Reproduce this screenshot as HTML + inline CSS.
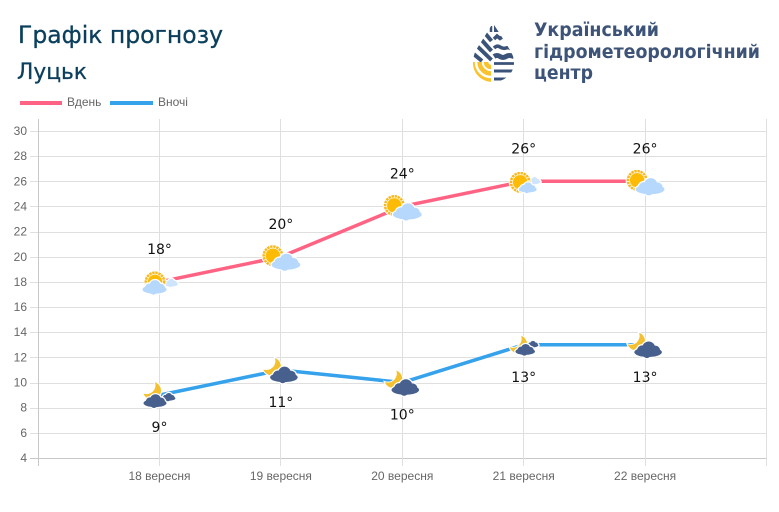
<!DOCTYPE html>
<html lang="uk">
<head>
<meta charset="utf-8">
<title>Графік прогнозу Луцьк</title>
<style>
html,body{margin:0;padding:0;background:#fff;width:779px;height:512px;overflow:hidden}
svg{display:block}
text{font-family:"Liberation Sans",sans-serif}
.dv{font-family:"DejaVu Sans","Liberation Sans",sans-serif}
</style>
</head>
<body>
<svg id="root" width="779" height="512" viewBox="0 0 779 512" xmlns="http://www.w3.org/2000/svg">
  <defs>
    <clipPath id="drop-clip"><path d="M493,23 L476,50 Q473,56 473,63 C473,74 482,82 493,82 C504,82 514,74 514,63 Q514,56 510,50 Z"/></clipPath>
  </defs>
  <rect width="779" height="512" fill="#fff"/>
  <text class="dv" x="18" y="43" font-size="24" fill="#0b3f5c" stroke="#0b3f5c" stroke-width="0.3" textLength="205" lengthAdjust="spacingAndGlyphs">Графік прогнозу</text>
  <text class="dv" x="17" y="79" font-size="22" fill="#0b3f5c" stroke="#0b3f5c" stroke-width="0.3" textLength="70" lengthAdjust="spacingAndGlyphs">Луцьк</text>

  <g clip-path="url(#drop-clip)">
    <g fill="none" stroke="#3b5378" stroke-width="4">
      <path d="M484,32 L491.500,41"/>
      <path d="M479,37 L491.500,51"/>
      <path d="M475,44 L491.500,60"/>
      <path d="M470,51 L482,61"/>
      <path d="M491,26 V32" stroke-width="2.500"/>
      <path d="M494,25 L499,32 H494 Z" fill="#3b5378" stroke="none"/>
      <path d="M494,39 l3,-3 l3,2.500 l3,-2 l3,3" stroke-width="3.500"/>
      <path d="M494,48 q3,-3 6,-1 t6,1 t5,1" stroke-width="3.500"/>
      <path d="M494,56.500 q3,-2 6,0 t6,0 t8,0" stroke-width="5"/>
      <path d="M494,63.500 H515" stroke-width="2.800"/>
      <path d="M494,71 H515" stroke-width="3"/>
      <path d="M494,79 H515" stroke-width="3"/>
    </g>
    <g fill="none" stroke="#f9c22e" stroke-width="4.500">
      <path d="M491,67 A5,5 0 0 1 486,62"/>
      <path d="M491,73.500 A11.500,11.500 0 0 1 479.500,62"/>
      <path d="M491,80.500 A18.500,18.500 0 0 1 472.500,62"/>
    </g>
  </g>
  <g fill="#3d5478" font-weight="bold" font-size="19">
    <text class="dv" x="534" y="36" textLength="125" lengthAdjust="spacingAndGlyphs">Український</text>
    <text class="dv" x="534" y="58" textLength="226" lengthAdjust="spacingAndGlyphs">гідрометеорологічний</text>
    <text class="dv" x="534" y="79" textLength="59" lengthAdjust="spacingAndGlyphs">центр</text>
  </g>

  <g>
    <g>
      <rect x="20" y="101" width="42" height="4" fill="#ff6384"/>
      <text x="67" y="106" font-size="12" fill="#666">Вдень</text>
    </g>
    <g>
      <rect x="110" y="101" width="43" height="4" fill="#36a2eb"/>
      <text x="158" y="106" font-size="12" fill="#666">Вночі</text>
    </g>
  </g>
  <g id="grid"></g>
  <g id="series"></g>
  <g id="icons"></g>
  <g id="labels"></g>
</svg>
<script>
var categories = ['18 вересня', '19 вересня', '20 вересня', '21 вересня', '22 вересня'];
var dayValues = [18, 20, 24, 26, 26];
var nightValues = [9, 11, 10, 13, 13];
var yTicks = [4, 6, 8, 10, 12, 14, 16, 18, 20, 22, 24, 26, 28, 30];
var dayIconTypes = ['a', 'b', 'b', 'c', 'b'];
var nightIconTypes = ['a', 'b', 'b', 'c', 'b'];

var NS = 'http://www.w3.org/2000/svg';
function yPos(v) { return 458 - (v - 4) * (327 / 26); }
function xPos(i) { return 159.5 + i * 121.4; }
function make(tag, attrs, parent) {
  var el = document.createElementNS(NS, tag);
  for (var k in attrs) el.setAttribute(k, attrs[k]);
  parent.appendChild(el);
  return el;
}
var grid = document.getElementById('grid');
var series = document.getElementById('series');
var icons = document.getElementById('icons');
var labels = document.getElementById('labels');

yTicks.forEach(function (t) {
  var y = Math.round(yPos(t)) + 0.5;
  var line = make('line', { x1: 30, x2: 767, y1: y, y2: y, stroke: t === 4 ? '#c8c8c8' : '#dfdfdf' }, grid);
  
  
  var txt = make('text', { x: 27, y: yPos(t) + 4, 'text-anchor': 'end', 'font-size': 12, fill: '#666' }, grid);
  txt.textContent = t;
  
  
});
for (var g = -1; g <= categories.length; g++) {
  var gx = Math.round(xPos(g) - 0.5) + 0.5;
  var v = make('line', { x1: gx, x2: gx, y1: 119, y2: 466, stroke: g === -1 ? '#c8c8c8' : '#dfdfdf' }, grid);
  
  
}
categories.forEach(function (c, i) {
  var t = make('text', { x: xPos(i), y: 480, 'text-anchor': 'middle', 'font-size': 12, fill: '#666' }, grid);
  t.textContent = c;
  
  
});

function drawLine(values, color, name) {
  var d = values.map(function (val, i) { return (i ? 'L' : 'M') + xPos(i) + ',' + yPos(val); }).join(' ');
  var p = make('path', { d: d, fill: 'none', stroke: color, 'stroke-width': 3.5 }, series);
  
  
}
drawLine(dayValues, '#ff6384', 'day-line');
drawLine(nightValues, '#36a2eb', 'night-line');

function cloud(parent, cx, cy, s, color) {
  var shapes = [
    ['ellipse', { cx: cx, cy: cy + 2 * s, rx: 11.5 * s, ry: 4 * s }],
    ['circle', { cx: cx - 5 * s, cy: cy + 0.5 * s, r: 4.2 * s }],
    ['circle', { cx: cx + 0.5 * s, cy: cy - 1.5 * s, r: 5.4 * s }],
    ['circle', { cx: cx + 6 * s, cy: cy + 0.5 * s, r: 4 * s }],
    ['circle', { cx: cx - 1 * s, cy: cy + 3.5 * s, r: 3.4 * s }]
  ];
  shapes.forEach(function (sh) {
    var a = Object.assign({}, sh[1], { fill: '#fff', stroke: '#fff', 'stroke-width': 2.5 });
    make(sh[0], a, parent);
  });
  shapes.forEach(function (sh) {
    var a = Object.assign({}, sh[1], { fill: color });
    make(sh[0], a, parent);
  });
}
function sun(parent, cx, cy) {
  make('circle', { cx: cx, cy: cy, r: 11.5, fill: '#fff' }, parent);
  make('circle', { cx: cx, cy: cy, r: 9.2, fill: 'none', stroke: '#f8b820', 'stroke-width': 2.6, 'stroke-dasharray': '2.4 0.7' }, parent);
  make('circle', { cx: cx, cy: cy, r: 8, fill: '#fdf0c8' }, parent);
  make('circle', { cx: cx, cy: cy, r: 7.2, fill: '#fdbb05' }, parent);
}
function moon(parent, cx, cy) {
  var d = 'M' + (cx + 3) + ',' + (cy - 8.5) + ' A9,9 0 1 1 ' + (cx - 8.5) + ',' + (cy + 3) +
    ' A9,9 0 0 0 ' + (cx + 3) + ',' + (cy - 8.5) + ' Z';
  make('path', { d: d, fill: '#f4c02f', stroke: '#fff', 'stroke-width': 2, 'paint-order': 'stroke' }, parent);
}
var LIGHT = '#b7d8fd';
var LIGHT2 = '#cfe4fd';
var DARK = '#47608e';
function dayIcon(type, x, y) {
  var g = make('g', {}, icons);
  
  
  if (type === 'a') {
    cloud(g, x + 11.5, y + 1, 0.6, LIGHT2);
    sun(g, x - 4.5, y);
    cloud(g, x - 5, y + 5.5, 1.05, LIGHT);
  } else if (type === 'b') {
    sun(g, x - 8, y - 1);
    cloud(g, x + 5, y + 5.5, 1.25, LIGHT);
  } else {
    cloud(g, x + 10.5, y - 0.5, 0.55, LIGHT2);
    sun(g, x - 3.5, y + 1);
    cloud(g, x + 4, y + 6.5, 0.78, LIGHT);
  }
}
function nightIcon(type, x, y) {
  var g = make('g', {}, icons);
  
  
  if (type === 'a') {
    cloud(g, x + 9, y + 2, 0.6, DARK);
    moon(g, x - 7.5, y - 4.5);
    cloud(g, x - 4.5, y + 6, 1, DARK);
  } else if (type === 'b') {
    moon(g, x - 9, y - 3.5);
    cloud(g, x + 3, y + 5, 1.2, DARK);
  } else {
    cloud(g, x + 9, y - 0.5, 0.5, DARK);
    moon(g, x - 5.5, y - 0.5);
    cloud(g, x + 1.5, y + 5, 0.85, DARK);
  }
}
dayValues.forEach(function (val, i) {
  dayIcon(dayIconTypes[i], xPos(i), yPos(val));
  var t = make('text', { 'class': 'dv', x: xPos(i), y: yPos(val) - 28, 'text-anchor': 'middle', 'font-size': 14, fill: '#111' }, labels);
  t.textContent = val + '°';
  
  
});
nightValues.forEach(function (val, i) {
  nightIcon(nightIconTypes[i], xPos(i), yPos(val));
  var t = make('text', { 'class': 'dv', x: xPos(i), y: yPos(val) + 37, 'text-anchor': 'middle', 'font-size': 14, fill: '#111' }, labels);
  t.textContent = val + '°';
  
  
});
</script>
</body>
</html>
